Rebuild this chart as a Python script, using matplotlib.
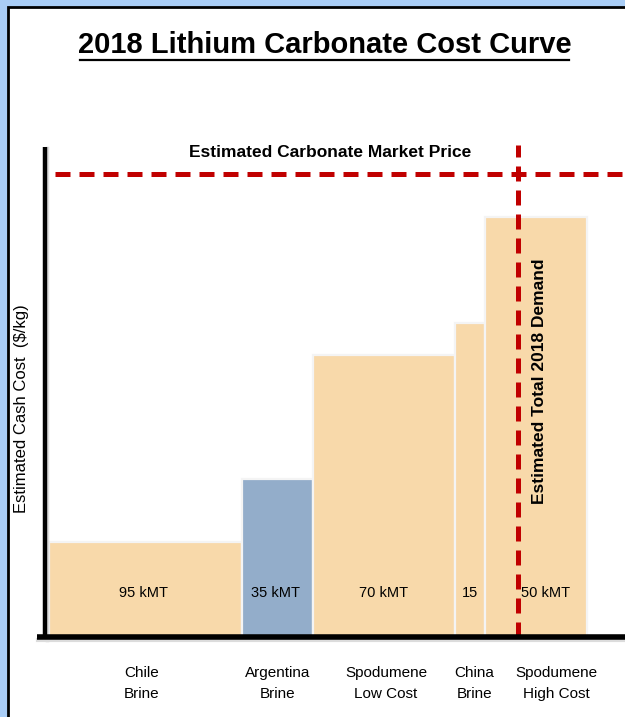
import matplotlib
matplotlib.use("Agg")
import matplotlib.pyplot as plt
from matplotlib.patches import Rectangle

# supply segments, kMT of carbonate, in cost order
segments = ["Chile\nBrine", "Argentina\nBrine", "Spodumene\nLow Cost", "China\nBrine", "Spodumene\nHigh Cost"]
volume_kmt = [95, 35, 70, 15, 50]
volume_labels = ["95 kMT", "35 kMT", "70 kMT", "15", "50 kMT"]
cash_cost = [3.3, 5.5, 9.8, 10.9, 14.6]     # $/kg
market_price = 16.1                          # $/kg
demand_kmt = 231

peach = "#f8d9aa"
steel = "#93adca"
bar_colors = [peach, steel, peach, peach, peach]
red = "#c00000"
narrow = ["Liberation Sans Narrow", "Liberation Sans", "DejaVu Sans"]

W, H = 625, 717
fig = plt.figure(figsize=(W / 100, H / 100), dpi=100)
fig.patch.set_facecolor("#a9cdf6")

# white slide panel with black frame
fig.add_artist(Rectangle((8 / W, -0.1), 1.2, (H - 7) / H + 0.1, transform=fig.transFigure,
                         facecolor="white", edgecolor="black", lw=2, zorder=-5))

fig.text(325 / W, 1 - 45 / H, "2018 Lithium Carbonate Cost Curve", ha="center", va="center",
         fontsize=21, fontweight="bold", family=narrow)
fig.add_artist(plt.Line2D([80 / W, 569 / W], [1 - 60 / H, 1 - 60 / H], transform=fig.transFigure,
                          color="black", lw=1.6))

ax = fig.add_axes([45 / W, 80 / H, (W - 45) / W, 489 / H])
ax.set_facecolor("none")
px = 2.03  # pixels per kMT
ax.set_xlim(-4 / px, (W - 49) / px)
ax.set_ylim(0, 17)

lefts = []
x = 0
for v in volume_kmt:
    lefts.append(x)
    x += v
centers = [l + v / 2 for l, v in zip(lefts, volume_kmt)]

ax.bar(lefts, cash_cost, width=volume_kmt, align="edge", color=bar_colors,
       edgecolor="#f4f4f4", linewidth=1.6, zorder=2)

label_shift = [-1, -1, 0, 0, 4.5]
for c, s, t in zip(centers, label_shift, volume_labels):
    ax.text(c + s, 1.53, t, ha="center", va="center", fontsize=10.5, family=narrow, zorder=4)

name_shift = [-2, 0, 1, 2, 10]
for c, s, t in zip(centers, name_shift, segments):
    ax.text(c + s, -1.62, t, ha="center", va="center", fontsize=11, family=narrow,
            linespacing=1.6, clip_on=False)

# market price and demand lines
ax.plot([6 / px, ax.get_xlim()[1]], [market_price, market_price], color=red, lw=3.6,
        dashes=(3, 1.8), zorder=3, clip_on=False)
ax.plot([demand_kmt, demand_kmt], [0, 17.1], color=red, lw=3.6, dashes=(3, 1.8),
        zorder=3, clip_on=False)

ax.text((330 - 49) / px, 16.85, "Estimated Carbonate Market Price", ha="center",
        va="center", fontsize=12.5, fontweight="bold", family=narrow)
ax.text(demand_kmt + 10.5, 8.9, "Estimated Total 2018 Demand", rotation=90, ha="center",
        va="center", fontsize=12.5, fontweight="bold", family=narrow, zorder=4)

fig.text(22 / W, 1 - 409 / H, "Estimated Cash Cost  ($/kg)", rotation=90, ha="center",
         va="center", fontsize=12, family=narrow)

# heavy axis lines with a soft shadow
for s in ax.spines.values():
    s.set_visible(False)
ax.set_xticks([])
ax.set_yticks([])
ax.plot([-4 / px + 1.2, -4 / px + 1.2], [-0.1, 17], color="#dcdcdc", lw=2.5, clip_on=False, zorder=4)
ax.plot([-11 / px, ax.get_xlim()[1]], [-0.12, -0.12], color="#dcdcdc", lw=3, clip_on=False, zorder=4)
ax.plot([-4 / px, -4 / px], [0, 17.05], color="black", lw=3.2, clip_on=False, zorder=5,
        solid_capstyle="butt")
ax.plot([-12 / px, ax.get_xlim()[1]], [0, 0], color="black", lw=4, clip_on=False, zorder=5,
        solid_capstyle="butt")

fig.savefig("out.png", dpi=100)
